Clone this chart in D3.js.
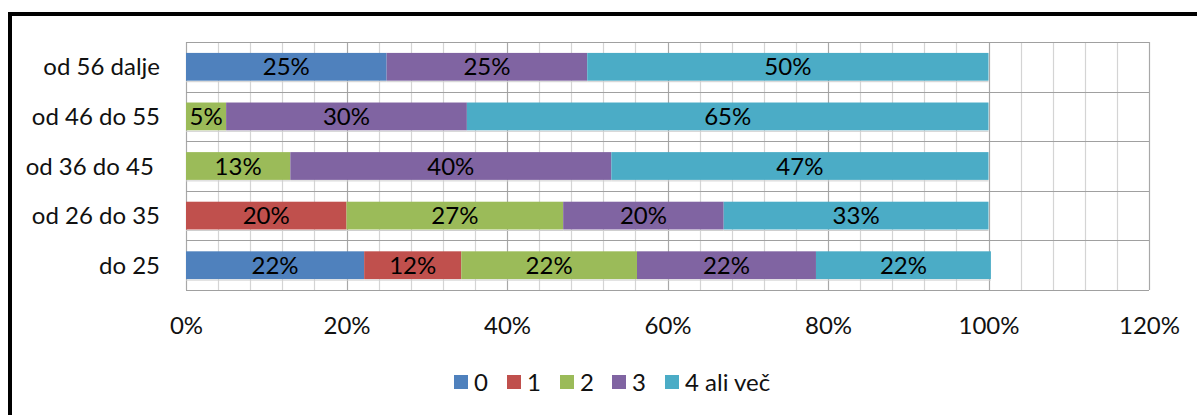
<!DOCTYPE html>
<html>
<head>
<meta charset="utf-8">
<script src="https://cdn.jsdelivr.net/npm/d3@7"></script>
<style>
  html, body { margin: 0; padding: 0; background: #fff; }
  svg { display: block; font-family: Lato, "Open Sans", sans-serif; }
  text { white-space: pre; }
</style>
</head>
<body>
<svg id="chart" width="1197" height="415"></svg>
<script>
// Age groups, top row first
const categories = ["od 56 dalje", "od 46 do 55", "od 36 do 45 ", "od 26 do 35", "do 25"];
// Series: share in percent per age group
const seriesNames = ["0", "1", "2", "3", "4 ali več"];
const s0 = [25, 0, 0, 0, 22.2];
const s1 = [0, 0, 0, 20, 12.1];
const s2 = [0, 5, 13, 27, 21.9];
const s3 = [25, 30, 40, 20, 22.3];
const s4 = [50, 65, 47, 33, 21.8];
const xTicks = [0, 20, 40, 60, 80, 100, 120];
const colors = ["#4F81BD", "#C0504D", "#9BBB59", "#8064A2", "#4BACC6"];

const seriesValues = [s0, s1, s2, s3, s4];
const table = categories.map((c, i) => {
  const row = { cat: c };
  seriesNames.forEach((s, j) => { row[s] = seriesValues[j][i]; });
  return row;
});

const svg = d3.select("#chart");
const plot = { left: 186, right: 1149, top: 42, bottom: 290 };
const fontSize = 24;

const x = d3.scaleLinear().domain([0, 120]).range([plot.left, plot.right]);
const y = d3.scaleBand().domain(categories).range([plot.top, plot.bottom]).padding(0);
const barH = y.bandwidth() * 0.56;

// outer frame
svg.append("rect")
  .attr("x", 10).attr("y", 14)
  .attr("width", 1220).attr("height", 430)
  .attr("fill", "#fff").attr("stroke", "#000").attr("stroke-width", 4);

// minor vertical gridlines every 4%
const g = svg.append("g");
g.selectAll("line.minor")
  .data(d3.range(0, 121, 4).filter(v => v % 20 !== 0))
  .join("line")
  .attr("x1", d => Math.round(x(d)) + 0.5).attr("x2", d => Math.round(x(d)) + 0.5)
  .attr("y1", plot.top).attr("y2", plot.bottom)
  .attr("stroke", "#d4d4d4").attr("stroke-width", 1.2);

// major vertical gridlines
g.selectAll("line.major")
  .data(xTicks)
  .join("line")
  .attr("x1", d => Math.round(x(d)) + 0.5).attr("x2", d => Math.round(x(d)) + 0.5)
  .attr("y1", plot.top).attr("y2", plot.bottom)
  .attr("stroke", "#a8a8a8").attr("stroke-width", 1.2);

// horizontal category boundaries
const bounds = categories.map(c => y(c)).concat([plot.bottom]);
g.selectAll("line.h")
  .data(bounds)
  .join("line")
  .attr("x1", plot.left).attr("x2", plot.right)
  .attr("y1", d => Math.round(d) + 0.5).attr("y2", d => Math.round(d) + 0.5)
  .attr("stroke", "#a0a0a0").attr("stroke-width", 1.2);

// stacked bars
const stacked = d3.stack().keys(seriesNames)(table);

const layers = svg.append("g").selectAll("g")
  .data(stacked)
  .join("g")
  .attr("fill", (d, i) => colors[i]);

const barTop = d => y(d.data.cat) + (y.bandwidth() - barH) / 2;
const nonEmpty = d => d.filter(p => p[1] - p[0] > 0);

// thin shade under each bar
layers.selectAll("line")
  .data(nonEmpty)
  .join("line")
  .attr("x1", d => x(d[0])).attr("x2", d => x(d[1]))
  .attr("y1", d => barTop(d) + barH + 1).attr("y2", d => barTop(d) + barH + 1)
  .attr("stroke", "#cfcfcf").attr("stroke-width", 1);

layers.selectAll("rect")
  .data(nonEmpty)
  .join("rect")
  .attr("x", d => x(d[0]))
  .attr("y", d => barTop(d))
  .attr("width", d => x(d[1]) - x(d[0]))
  .attr("height", barH);

// value labels inside segments
layers.selectAll("text")
  .data(nonEmpty)
  .join("text")
  .attr("x", d => (x(d[0]) + x(d[1])) / 2)
  .attr("y", d => barTop(d) + barH / 2)
  .attr("dy", "0.36em")
  .attr("text-anchor", "middle")
  .attr("fill", "#000")
  .attr("font-size", fontSize)
  .text(d => Math.round(d[1] - d[0]) + "%");

// category axis labels
svg.append("g").selectAll("text")
  .data(categories)
  .join("text")
  .attr("x", 160)
  .attr("y", d => y(d) + y.bandwidth() / 2)
  .attr("dy", "0.36em")
  .attr("text-anchor", "end")
  .attr("fill", "#111")
  .attr("font-size", fontSize)
  .text(d => d);

// value axis labels
const xAxis = d3.axisBottom(x).tickValues(xTicks).tickFormat(d => d + "%").tickSize(0).tickPadding(0);
const ax = svg.append("g").attr("transform", "translate(0, 325)").call(xAxis);
ax.select(".domain").remove();
ax.selectAll("text")
  .attr("dy", "0.36em").attr("y", 0)
  .attr("font-family", "Lato, sans-serif")
  .attr("font-size", fontSize)
  .attr("fill", "#111");

// legend
const legendX = [454, 507, 560, 612, 665];
const lg = svg.append("g").selectAll("g")
  .data(seriesNames)
  .join("g")
  .attr("transform", (d, i) => `translate(${legendX[i]}, 382)`);
lg.append("rect")
  .attr("x", 0).attr("y", -7).attr("width", 14).attr("height", 14)
  .attr("fill", (d, i) => colors[i]);
lg.append("text")
  .attr("x", 20).attr("y", 0).attr("dy", "0.36em")
  .attr("font-size", fontSize).attr("fill", "#111")
  .text(d => d);
</script>
</body>
</html>
